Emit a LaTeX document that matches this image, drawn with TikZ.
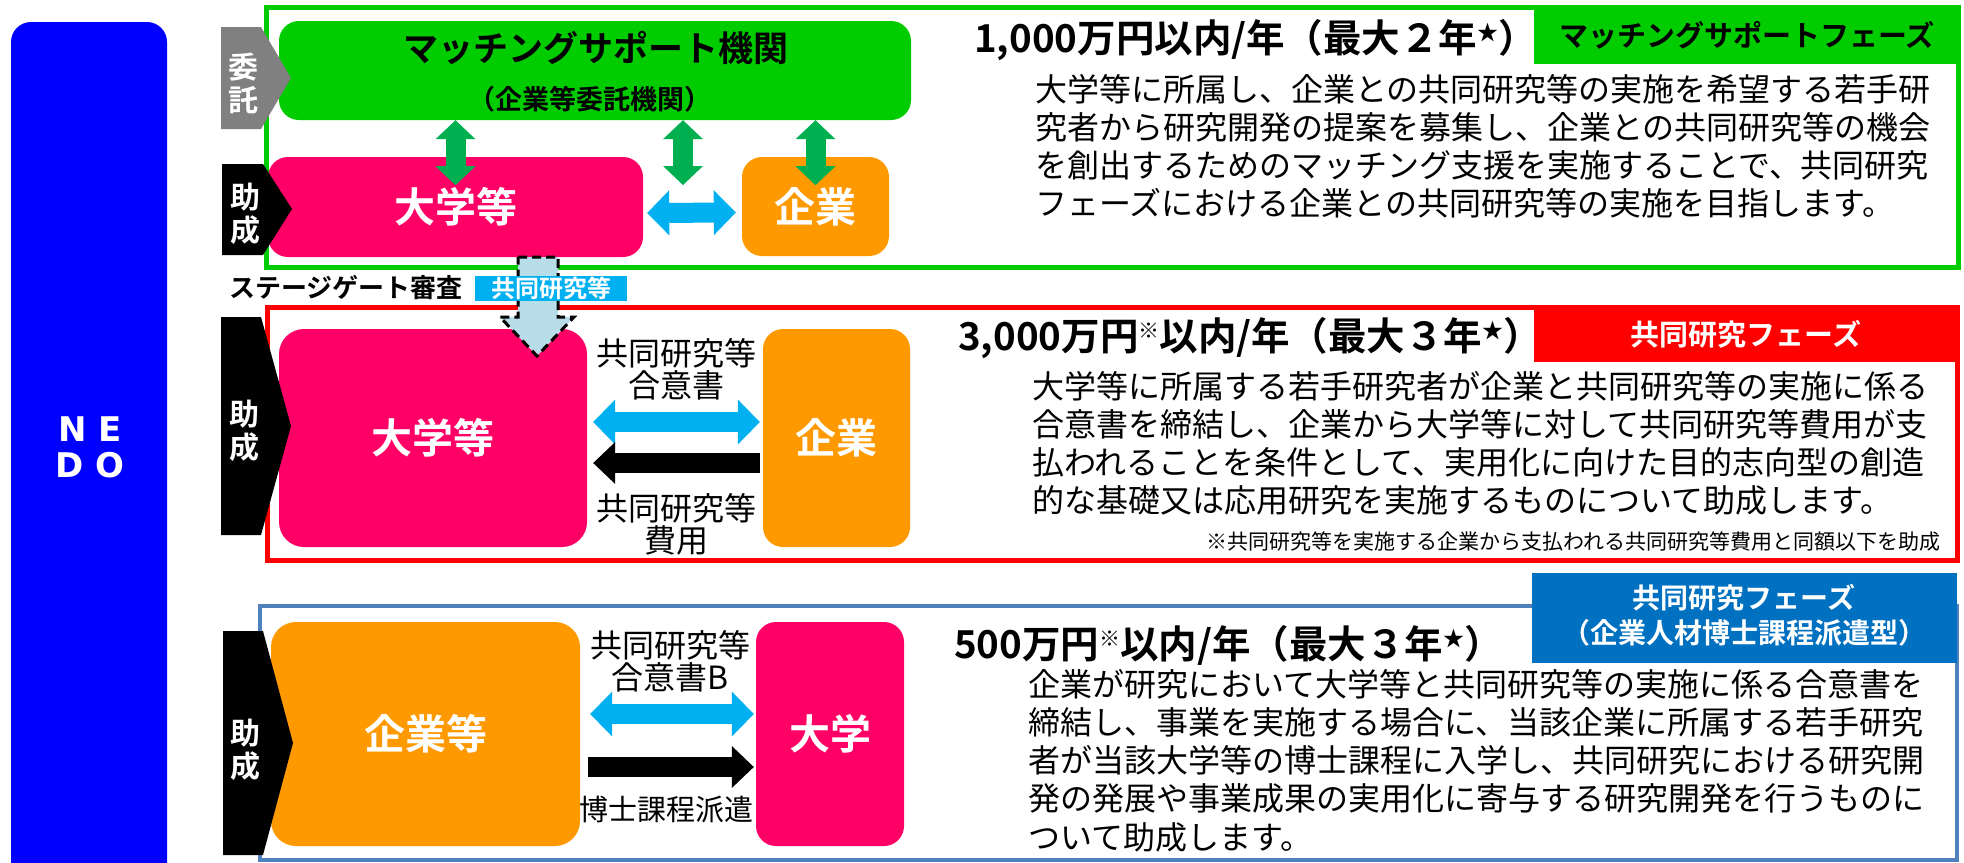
\documentclass[tikz,border=0pt]{standalone}
\usepackage{fontspec}
\setmainfont{Noto Sans CJK JP}[BoldFont={Noto Sans CJK JP Bold}]
\newfontfamily\nedofont{DejaVu Sans}
\usetikzlibrary{arrows.meta}

\definecolor{nedoblue}{RGB}{0,0,255}
\definecolor{mgreen}{RGB}{0,204,0}
\definecolor{agreen}{RGB}{0,176,80}
\definecolor{dpink}{RGB}{255,0,102}
\definecolor{dorange}{RGB}{255,153,0}
\definecolor{acyan}{RGB}{0,176,240}
\definecolor{gatefill}{RGB}{183,222,232}
\definecolor{frameblue}{RGB}{79,129,189}
\definecolor{tagblue}{RGB}{0,112,192}
\definecolor{itakugray}{RGB}{128,128,128}

\newcommand{\jfs}[1]{\fontsize{#1}{#1}\selectfont}
\newcommand{\sups}[1]{\raisebox{0.3em}{\jfs{21}#1}}

\tikzset{
  box/.style={rounded corners=20pt, inner sep=0pt, text=white, font=\bfseries\jfs{41}},
  tagbox/.style={inner sep=0pt, font=\bfseries\jfs{29}},
  amount/.style={anchor=west, inner sep=0pt, font=\bfseries\jfs{38.5}},
  desc/.style={anchor=north west, inner sep=0pt, align=left, font=\fontsize{32}{38.2}\selectfont},
  vlabel/.style={inner sep=0pt, align=center, text=white, font=\bfseries\fontsize{30}{33}\selectfont},
  alabel/.style={inner sep=0pt, align=center, font=\fontsize{32}{32}\selectfont},
  fatdbl/.style={line width=20pt, {Triangle[length=22pt,width=45pt,line width=0pt]}-{Triangle[length=22pt,width=45pt,line width=0pt]}},
  fatone/.style={line width=20pt, -{Triangle[length=22pt,width=42pt,line width=0pt]}},
  grnarr/.style={agreen, line width=20pt, {Triangle[length=19pt,width=40pt,line width=0pt]}-{Triangle[length=19pt,width=40pt,line width=0pt]}}
}

\begin{document}
\begin{tikzpicture}[x=1pt, y=-1pt]
\useasboundingbox (0,0) rectangle (1964,862);
% NEDO
\begin{scope}
\clip (0,0) rectangle (1964,862);
\fill[nedoblue, rounded corners=20pt] (11,22) rectangle (167,900);
\end{scope}
\node[text=white, align=center, inner sep=0pt, font=\nedofont\bfseries\fontsize{34}{36}\selectfont] (nedo) at (90,447) {N E\\D O};

% matching support phase
\draw[mgreen, line width=5pt] (266,7) rectangle (1958,267);
\fill[mgreen] (1534,6) rectangle (1961,64);
\node[tagbox] (tag1) at (1747,35) {マッチングサポートフェーズ};
\node[box, fill=mgreen, minimum width=632pt, minimum height=99pt] (matching) at (595,70.5) {};
\node[font=\bfseries\jfs{35}, inner sep=0pt] (matchtitle) at (596,48) {マッチングサポート機関};
\node[font=\bfseries\jfs{27}, inner sep=0pt] (matchsub) at (590,99) {（企業等委託機関）};
\fill[itakugray] (221,27) -- (261,27) -- (291,78) -- (261,129) -- (221,129) -- cycle;
\node[vlabel] (itaku) at (243,83) {委\\託};
\node[box, fill=dpink, minimum width=375pt, minimum height=100pt] (daigaku1) at (455.5,207) {大学等};
\fill (222,164) -- (263,164) -- (292,209) -- (263,255) -- (222,255) -- cycle;
\node[vlabel] (josei1) at (245,214) {助\\成};
\node[box, fill=dorange, minimum width=147pt, minimum height=99pt] (kigyo1) at (815.5,206.5) {企業};
\coordinate (midgap) at (683,185);
\draw[grnarr] (matching.south -| daigaku1.center) -- ++(0,65);
\draw[grnarr] (matching.south -| midgap) -- (midgap);
\draw[grnarr] (matching.south -| kigyo1.center) -- ++(0,65);
\draw[acyan, fatdbl, shorten <=4pt, shorten >=6pt] ([yshift=-6pt]daigaku1.east) -- ([yshift=-6pt]kigyo1.west);
\node[amount] (amount1) at (974,40) {1,000万円以内/年（最大２年\sups{★}）};
\node[desc] (desc1) at (1035,74) {大学等に所属し、企業との共同研究等の実施を希望する若手研\\
究者から研究開発の提案を募集し、企業との共同研究等の機会\\
を創出するためのマッチング支援を実施することで、共同研究\\
フェーズにおける企業との共同研究等の実施を目指します。};

% joint research phase
\draw[red, line width=5pt] (267,307) rectangle (1957,560);
\fill[red] (1534,310) rectangle (1958,362);
\node[tagbox, text=white] (tag2) at (1746,334) {共同研究フェーズ};
\node[box, fill=dpink, minimum width=308pt, minimum height=218pt, rounded corners=25pt] (daigaku2) at (433,438) {大学等};
\node[box, fill=dorange, minimum width=147pt, minimum height=218pt] (kigyo2) at (836.5,438) {企業};
\fill (221,317) -- (261,317) -- (291,426) -- (261,535) -- (221,535) -- cycle;
\node[vlabel] (josei2) at (244,431) {助\\成};
\draw[acyan, fatdbl, shorten <=6pt, shorten >=3pt] ([yshift=16pt]daigaku2.east) -- ([yshift=16pt]kigyo2.west);
\draw[fatone, shorten <=3pt, shorten >=6pt] ([yshift=-25pt]kigyo2.west) -- ([yshift=-25pt]daigaku2.east);
\node[alabel] (agree2) at (676,369) {共同研究等\\合意書};
\node[alabel] (cost2) at (676,524) {共同研究等\\費用};
\node[amount] (amount2) at (958,338) {3,000万円\sups{※}以内/年（最大３年\sups{★}）};
\node[desc] (desc2) at (1032,371) {大学等に所属する若手研究者が企業と共同研究等の実施に係る\\
合意書を締結し、企業から大学等に対して共同研究等費用が支\\
払われることを条件として、実用化に向けた目的志向型の創造\\
的な基礎又は応用研究を実施するものについて助成します。};
\node[anchor=east, inner sep=0pt, font=\jfs{21}] (note2) at (1941,542) {※共同研究等を実施する企業から支払われる共同研究等費用と同額以下を助成};

% stage gate
\filldraw[fill=gatefill, draw=black, line width=3pt, dash pattern=on 9pt off 5pt] (518,257) -- (558,257) -- (558,317) -- (574,317) -- (537,356) -- (500,317) -- (518,317) -- cycle;
\node[anchor=west, inner sep=0pt, font=\bfseries\jfs{26}] (gate) at (229,288) {ステージゲート審査};
\node[fill=acyan, text=white, font=\bfseries\jfs{24}, minimum width=152pt, minimum height=25pt, inner sep=0pt] (gatetag) at (551,288.5) {共同研究等};

% doctoral dispatch type
\draw[frameblue, line width=4pt] (260,606) rectangle (1957,860);
\fill[tagblue] (1532,573) rectangle (1957,663);
\node[tagbox, text=white, align=center, font=\bfseries\fontsize{28}{35}\selectfont] (tag3) at (1744,615) {共同研究フェーズ\\（企業人材博士課程派遣型）};
\node[box, fill=dorange, minimum width=309pt, minimum height=224pt, rounded corners=25pt] (kigyo3) at (425.5,734) {企業等};
\node[box, fill=dpink, minimum width=148pt, minimum height=224pt] (daigaku3) at (830,734) {大学};
\fill (223,631) -- (263,631) -- (293,743) -- (263,855) -- (223,855) -- cycle;
\node[vlabel] (josei3) at (245,750) {助\\成};
\draw[acyan, fatdbl, shorten <=10pt, shorten >=2pt] ([yshift=20pt]kigyo3.east) -- ([yshift=20pt]daigaku3.west);
\draw[fatone, shorten <=8pt, shorten >=2pt] ([yshift=-33pt]kigyo3.east) -- ([yshift=-33pt]daigaku3.west);
\node[alabel] (agree3) at (670,661) {共同研究等\\合意書B};
\node[alabel, font=\jfs{29}] (dispatch3) at (666,810) {博士課程派遣};
\node[amount] (amount3) at (954,645) {500万円\sups{※}以内/年（最大３年\sups{★}）};
\node[desc] (desc3) at (1028,669) {企業が研究において大学等と共同研究等の実施に係る合意書を\\
締結し、事業を実施する場合に、当該企業に所属する若手研究\\
者が当該大学等の博士課程に入学し、共同研究における研究開\\
発の発展や事業成果の実用化に寄与する研究開発を行うものに\\
ついて助成します。};
\end{tikzpicture}
\end{document}
